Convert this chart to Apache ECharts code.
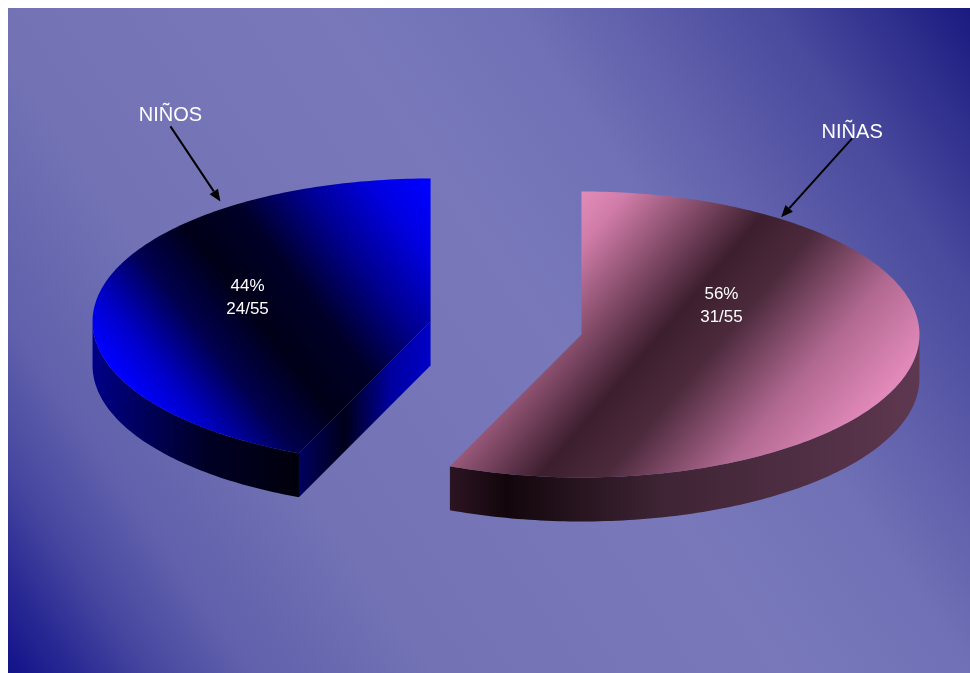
<!DOCTYPE html>
<html>
<head>
<meta charset="utf-8">
<script src="https://cdn.jsdelivr.net/npm/echarts@6/dist/echarts.min.js"></script>
<style>
html,body{margin:0;padding:0;background:#ffffff;}
#chart{width:970px;height:673px;}
</style>
</head>
<body>
<div id="chart"></div>
<script>
// ---- data ----
const categories = ['NIÑOS', 'NIÑAS'];
const counts = [24, 31];
const total = 55;

// ---- layout / style (not data) ----
const PIE = { cx: 506, cy: 328, rx: 338, ry: 143, depth: 44, explode: 77, startAngle: 90 };
const FONT = '"Liberation Sans", Arial, sans-serif';
const SLICE_STYLE = [
  {
    // top gradient endpoints relative to slice centre (global gradient)
    top: [[0,'#0000ff'],[0.1,'#0000c8'],[0.25,'#000050'],[0.4,'#000018'],[0.55,'#000028'],[0.72,'#000090'],[0.88,'#0000e0'],[1,'#0000ff']],
    topVec: [-298, 70, -14, -150],
    side: [[0,'#000088'],[0.55,'#000026'],[1,'#00000c']], sideDir: [0,0,1,0],
    cut: [[0,'#000060'],[0.35,'#00001a'],[0.7,'#0000a0'],[1,'#0000c8']], cutDir: [0,0,1,0],
    label: [-183, -24], arrowAngle: 126.5, arrowScale: 1.045, arrowVec: [-50, -75], nameOff: [0, -11]
  },
  {
    top: [[0,'#f098c8'],[0.15,'#d07ca8'],[0.43,'#3c1e2e'],[0.55,'#4c2a3c'],[0.75,'#b06890'],[0.92,'#e088b8'],[1,'#e890c0']],
    topVec: [-89, -81, 230, 192],
    side: [[0,'#2c1422'],[0.12,'#12060c'],[0.45,'#3e2434'],[0.8,'#523046'],[1,'#5e3850']], sideDir: [0,0,1,0],
    cut: [[0,'#301824'],[1,'#301824']], cutDir: [0,0,1,0],
    label: [140, -29], arrowAngle: 54.2, arrowScale: 1.01, arrowVec: [71, -79], nameOff: [0, -6]
  }
];

function grad(dir, stops, global) {
  return new echarts.graphic.LinearGradient(dir[0], dir[1], dir[2], dir[3],
    stops.map(s => ({ offset: s[0], color: s[1] })), !!global);
}

// cumulative angles (counter-clockwise from 12 o'clock)
const angles = [];
(function () {
  let acc = 0;
  counts.forEach(v => {
    const a0 = PIE.startAngle + 360 * acc / total;
    acc += v;
    const a1 = PIE.startAngle + 360 * acc / total;
    angles.push([a0, a1]);
  });
})();

function pt(cx, cy, a, dy, s) {
  const r = a * Math.PI / 180; s = s || 1;
  return [cx + s * PIE.rx * Math.cos(r), cy - s * PIE.ry * Math.sin(r) + (dy || 0)];
}
function arc(cx, cy, a0, a1, dy) {
  const n = Math.max(2, Math.ceil(Math.abs(a1 - a0)));
  const pts = [];
  for (let k = 0; k <= n; k++) pts.push(pt(cx, cy, a0 + (a1 - a0) * k / n, dy));
  return pts;
}

function renderItem(params, api) {
  const i = params.dataIndex;
  const v = api.value(0);
  const st = SLICE_STYLE[i];
  const [a0, a1] = angles[i];
  const mid = (a0 + a1) / 2 * Math.PI / 180;
  const k = PIE.ry / PIE.rx;
  const cx = PIE.cx + PIE.explode * Math.cos(mid);
  const cy = PIE.cy - PIE.explode * k * Math.sin(mid);
  const D = PIE.depth;
  const children = [];

  // outer side face (front half: 180..360 and 540..720)
  [[180, 360], [540, 720]].forEach(([f0, f1]) => {
    const s0 = Math.max(a0, f0), s1 = Math.min(a1, f1);
    if (s1 > s0) {
      const pts = arc(cx, cy, s0, s1, 0).concat(arc(cx, cy, s1, s0, D));
      children.push({ type: 'polygon', shape: { points: pts }, style: { fill: grad(st.sideDir, st.side) } });
    }
  });
  // radial cut faces
  const c0 = Math.cos(a0 * Math.PI / 180), c1 = Math.cos(a1 * Math.PI / 180);
  const faces = [];
  if (c0 > 1e-6) faces.push(a0);
  if (c1 < -1e-6) faces.push(a1);
  faces.forEach(a => {
    const e = pt(cx, cy, a, 0);
    const pts = [[cx, cy], e, [e[0], e[1] + D], [cx, cy + D]];
    children.push({ type: 'polygon', shape: { points: pts }, style: { fill: grad(st.cutDir, st.cut) } });
  });
  // top face
  const topPts = [[cx, cy]].concat(arc(cx, cy, a0, a1, 0));
  const tv = st.topVec;
  children.push({ type: 'polygon', shape: { points: topPts },
    style: { fill: grad([cx + tv[0], cy + tv[1], cx + tv[2], cy + tv[3]], st.top, true) } });

  // value label
  const pct = Math.round(v / total * 100);
  children.push({
    type: 'text',
    style: {
      x: cx + st.label[0], y: cy + st.label[1],
      text: pct + '%\n' + v + '/' + total,
      fill: '#ffffff', fontSize: 17, fontFamily: FONT, lineHeight: 23,
      align: 'center', verticalAlign: 'middle', textAlign: 'center', textVerticalAlign: 'middle'
    }
  });

  // category annotation with arrow
  const tip = pt(cx, cy, st.arrowAngle, 0, st.arrowScale);
  const start = [tip[0] + st.arrowVec[0], tip[1] + st.arrowVec[1]];
  const len = Math.hypot(st.arrowVec[0], st.arrowVec[1]);
  const ux = -st.arrowVec[0] / len, uy = -st.arrowVec[1] / len;
  const hl = 12, hw = 5;
  const base = [tip[0] - ux * hl, tip[1] - uy * hl];
  children.push({
    type: 'line',
    shape: { x1: start[0], y1: start[1], x2: base[0], y2: base[1] },
    style: { stroke: '#000000', lineWidth: 2 }
  });
  children.push({
    type: 'polygon',
    shape: { points: [tip, [base[0] - uy * hw, base[1] + ux * hw], [base[0] + uy * hw, base[1] - ux * hw]] },
    style: { fill: '#000000' }
  });
  children.push({
    type: 'text',
    style: {
      x: start[0] + st.nameOff[0], y: start[1] + st.nameOff[1],
      text: categories[i],
      fill: '#ffffff', fontSize: 20, fontFamily: FONT,
      align: 'center', verticalAlign: 'middle', textAlign: 'center', textVerticalAlign: 'middle'
    }
  });

  return { type: 'group', children };
}

const chart = echarts.init(document.getElementById('chart'), null, { renderer: 'canvas' });
chart.setOption({
  animation: false,
  graphic: [{
    type: 'rect', z: -10, silent: true,
    shape: { x: 8, y: 8, width: 962, height: 665 },
    style: {
      fill: new echarts.graphic.LinearGradient(0, 1, 1, 0, [
        { offset: 0, color: '#12128a' },
        { offset: 0.05, color: '#2a2a94' },
        { offset: 0.1, color: '#4646a0' },
        { offset: 0.17, color: '#6060ac' },
        { offset: 0.3, color: '#7272b5' },
        { offset: 0.55, color: '#7878bb' },
        { offset: 0.68, color: '#7070b6' },
        { offset: 0.86, color: '#4a4a9e' },
        { offset: 1, color: '#1a1a80' }
      ])
    }
  }],
  series: [{
    type: 'custom',
    coordinateSystem: 'none',
    silent: true,
    data: counts.map((v, i) => ({ name: categories[i], value: v })),
    renderItem: renderItem
  }]
});
</script>
</body>
</html>
